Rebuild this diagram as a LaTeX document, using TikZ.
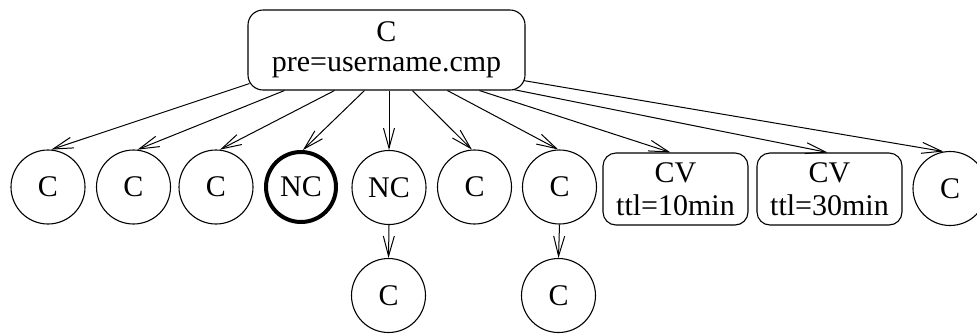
\documentclass[tikz,border=0pt]{standalone}
\usepackage{fontspec}
\setmainfont{Liberation Serif}
\usetikzlibrary{arrows.meta,calc}
\begin{document}
\begin{tikzpicture}[x=1pt,y=-1pt,
  every node/.style={font=\fontsize{30}{30}\selectfont},
  circ/.style={circle,draw,line width=1.1pt,minimum size=74pt,inner sep=0pt},
  thickcirc/.style={circ,line width=4pt,minimum size=70pt},
  rbox/.style={rectangle,draw,line width=1.1pt,rounded corners=13pt,align=center,inner sep=0pt},
  conn/.style={line width=1pt,-{Straight Barb[length=20pt,width=11pt,line width=1pt]}}]
\useasboundingbox (0,0) rectangle (977,333);
\clip (0,0) rectangle (977,333);
\node[rbox,minimum width=277pt,minimum height=80pt,rounded corners=15pt] (top) at (386.5,50) {C\\[0pt]pre=username.cmp};
\node[circ] (c1) at (48,187) {C};
\node[circ] (c2) at (133.5,187) {C};
\node[circ] (c3) at (216,187) {C};
\node[thickcirc] (nc1) at (301,187) {NC};
\node[circ] (nc2) at (389,187.5) {NC};
\node[circ] (c4) at (474.5,187) {C};
\node[circ] (c5) at (559.5,187) {C};
\node[rbox,minimum width=145pt,minimum height=72pt] (cv1) at (675.5,189) {CV\\[3pt]ttl=10min};
\node[rbox,minimum width=145pt,minimum height=72pt] (cv2) at (829.5,189) {CV\\[3pt]ttl=30min};
\node[circ] (c6) at (950,188.5) {C};
\node[circ] (c7) at (388.5,295.5) {C};
\node[circ] (c8) at (558.5,295.5) {C};
\draw[conn] ($(top.south west)+(2,-7)$) -- (c1.85);
\draw[conn] ($(top.south west)+(37,0)$) -- (c2.84);
\draw[conn] ($(top.south west)+(87,0)$) -- (c3.84);
\draw[conn] ($(top.south west)+(117,0)$) -- (nc1.87);
\draw[conn] (nc2.north |- top.south) -- (nc2.north);
\draw[conn] ($(top.south west)+(165,0)$) -- (c4.94);
\draw[conn] ($(top.south west)+(200,0)$) -- (c5.92);
\draw[conn] ($(top.south west)+(232,0)$) -- ([xshift=-5pt]cv1.north);
\draw[conn] ($(top.south east)+(-12,-1)$) -- ([xshift=-2pt]cv2.north);
\draw[conn] ($(top.south east)+(-2,-10)$) -- (c6.100);
\draw[conn] (nc2.south) -- (c7.north);
\draw[conn] (c5.south) -- (c8.north);
\end{tikzpicture}
\end{document}
